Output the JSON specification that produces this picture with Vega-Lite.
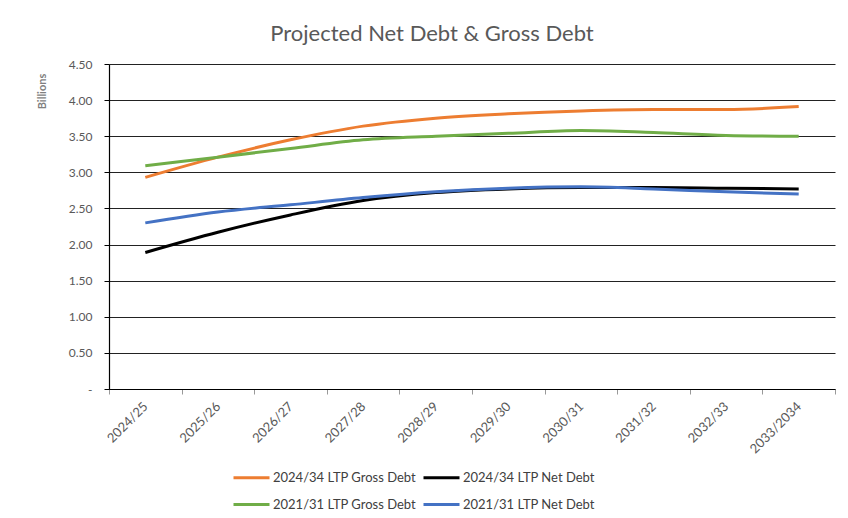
{
  "$schema": "https://vega.github.io/schema/vega-lite/v6.json",
  "autosize": {"type": "none"},
  "width": 726,
  "height": 325,
  "padding": {"left": 109, "top": 64, "right": 13, "bottom": 129},
  "background": "white",
  "title": {
    "text": "Projected Net Debt & Gross Debt",
    "font": "Lato",
    "fontSize": 22,
    "fontWeight": "normal",
    "color": "#595959",
    "anchor": "middle",
    "dx": -40,
    "offset": 12
  },
  "data": {
    "values": [
      {"year": "2024/25", "series": "2024/34 LTP Gross Debt", "value": 2.93},
      {"year": "2025/26", "series": "2024/34 LTP Gross Debt", "value": 3.21},
      {"year": "2026/27", "series": "2024/34 LTP Gross Debt", "value": 3.45},
      {"year": "2027/28", "series": "2024/34 LTP Gross Debt", "value": 3.64},
      {"year": "2028/29", "series": "2024/34 LTP Gross Debt", "value": 3.75},
      {"year": "2029/30", "series": "2024/34 LTP Gross Debt", "value": 3.81},
      {"year": "2030/31", "series": "2024/34 LTP Gross Debt", "value": 3.85},
      {"year": "2031/32", "series": "2024/34 LTP Gross Debt", "value": 3.87},
      {"year": "2032/33", "series": "2024/34 LTP Gross Debt", "value": 3.87},
      {"year": "2033/2034", "series": "2024/34 LTP Gross Debt", "value": 3.91},
      {"year": "2024/25", "series": "2024/34 LTP Net Debt", "value": 1.89},
      {"year": "2025/26", "series": "2024/34 LTP Net Debt", "value": 2.17},
      {"year": "2026/27", "series": "2024/34 LTP Net Debt", "value": 2.41},
      {"year": "2027/28", "series": "2024/34 LTP Net Debt", "value": 2.61},
      {"year": "2028/29", "series": "2024/34 LTP Net Debt", "value": 2.72},
      {"year": "2029/30", "series": "2024/34 LTP Net Debt", "value": 2.77},
      {"year": "2030/31", "series": "2024/34 LTP Net Debt", "value": 2.79},
      {"year": "2031/32", "series": "2024/34 LTP Net Debt", "value": 2.79},
      {"year": "2032/33", "series": "2024/34 LTP Net Debt", "value": 2.78},
      {"year": "2033/2034", "series": "2024/34 LTP Net Debt", "value": 2.77},
      {"year": "2024/25", "series": "2021/31 LTP Gross Debt", "value": 3.09},
      {"year": "2025/26", "series": "2021/31 LTP Gross Debt", "value": 3.21},
      {"year": "2026/27", "series": "2021/31 LTP Gross Debt", "value": 3.33},
      {"year": "2027/28", "series": "2021/31 LTP Gross Debt", "value": 3.45},
      {"year": "2028/29", "series": "2021/31 LTP Gross Debt", "value": 3.50},
      {"year": "2029/30", "series": "2021/31 LTP Gross Debt", "value": 3.54},
      {"year": "2030/31", "series": "2021/31 LTP Gross Debt", "value": 3.58},
      {"year": "2031/32", "series": "2021/31 LTP Gross Debt", "value": 3.55},
      {"year": "2032/33", "series": "2021/31 LTP Gross Debt", "value": 3.51},
      {"year": "2033/2034", "series": "2021/31 LTP Gross Debt", "value": 3.50},
      {"year": "2024/25", "series": "2021/31 LTP Net Debt", "value": 2.30},
      {"year": "2025/26", "series": "2021/31 LTP Net Debt", "value": 2.45},
      {"year": "2026/27", "series": "2021/31 LTP Net Debt", "value": 2.55},
      {"year": "2027/28", "series": "2021/31 LTP Net Debt", "value": 2.65},
      {"year": "2028/29", "series": "2021/31 LTP Net Debt", "value": 2.73},
      {"year": "2029/30", "series": "2021/31 LTP Net Debt", "value": 2.78},
      {"year": "2030/31", "series": "2021/31 LTP Net Debt", "value": 2.80},
      {"year": "2031/32", "series": "2021/31 LTP Net Debt", "value": 2.77},
      {"year": "2032/33", "series": "2021/31 LTP Net Debt", "value": 2.73},
      {"year": "2033/2034", "series": "2021/31 LTP Net Debt", "value": 2.70}
    ]
  },
  "mark": {"type": "line", "interpolate": "monotone", "strokeWidth": 3},
  "encoding": {
    "x": {
      "field": "year",
      "type": "ordinal",
      "sort": null,
      "bandPosition": 0.5,
      "scale": {"type": "band", "paddingInner": 0, "paddingOuter": 0},
      "axis": {
        "title": null,
        "tickBand": "extent",
        "labelAngle": -45,
        "labelAlign": "right",
        "labelBaseline": "middle",
        "labelFont": "Lato",
        "labelFontSize": 13,
        "labelColor": "#595959",
        "labelPadding": 10,
        "domainColor": "#000000",
        "domainWidth": 1.2,
        "tickColor": "#999999",
        "tickSize": 5,
        "grid": false
      }
    },
    "y": {
      "field": "value",
      "type": "quantitative",
      "scale": {"domain": [0, 4.5], "nice": false},
      "axis": {
        "title": "Billions",
        "titleFont": "Lato",
        "titleFontSize": 11,
        "titleFontWeight": "bold",
        "titleColor": "#7f7f7f",
        "titleX": -67,
        "titleY": 27,
        "titleAngle": -90,
        "titleAlign": "center",
        "titleBaseline": "middle",
        "values": [0, 0.5, 1, 1.5, 2, 2.5, 3, 3.5, 4, 4.5],
        "labelExpr": "datum.value == 0 ? '-' : format(datum.value, '.2f')",
        "labelFont": "Lato",
        "labelFontSize": 12,
        "labelColor": "#595959",
        "labelPadding": 12,
        "domainColor": "#000000",
        "domainWidth": 1.2,
        "tickColor": "#000000",
        "tickSize": 5,
        "grid": true,
        "gridColor": "#222222",
        "gridWidth": 1
      }
    },
    "color": {
      "field": "series",
      "type": "nominal",
      "scale": {
        "domain": ["2024/34 LTP Gross Debt", "2024/34 LTP Net Debt", "2021/31 LTP Gross Debt", "2021/31 LTP Net Debt"],
        "range": ["#ED7D31", "#000000", "#70AD47", "#4472C4"]
      },
      "legend": {
        "title": null,
        "orient": "none",
        "legendX": 123,
        "legendY": 394,
        "columns": 2,
        "direction": "horizontal",
        "symbolType": "stroke",
        "symbolSize": 1296,
        "symbolStrokeWidth": 3,
        "labelFont": "Lato",
        "labelFontSize": 13,
        "labelColor": "#404040",
        "labelOffset": 2,
        "columnPadding": 0,
        "rowPadding": -15
      }
    }
  },
  "config": {"view": {"stroke": null}}
}
